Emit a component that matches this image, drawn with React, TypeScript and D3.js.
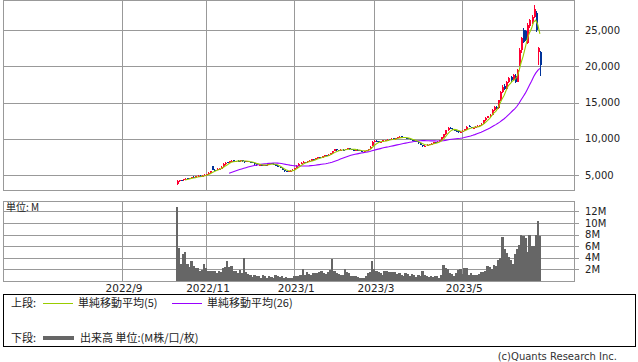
import * as d3 from 'd3';

// daily candles from listing day: [open, high, low, close] (yen)
const ohlc: [number, number, number, number][] = [
  [3750, 4250, 3650, 4150], [4150, 4350, 4050, 4300], [4300, 4350, 4150, 4250], [4250, 4450, 4200, 4400],
  [4400, 4600, 4350, 4500], [4550, 4600, 4400, 4450], [4450, 4650, 4400, 4600], [4600, 4750, 4550, 4700],
  [4750, 4800, 4600, 4650], [4650, 4850, 4600, 4800], [4800, 4950, 4750, 4850], [4900, 4950, 4700, 4750],
  [4750, 4950, 4700, 4900], [4900, 5100, 4850, 5050], [5050, 5200, 4950, 5100], [5150, 5350, 5100, 5300],
  [5300, 5600, 5250, 5500], [6200, 6300, 5700, 5750], [5750, 5850, 5600, 5700], [5700, 5900, 5650, 5800],
  [5800, 5950, 5750, 5850], [5850, 6200, 5800, 6150], [6150, 6600, 6100, 6500], [6500, 6800, 6450, 6700],
  [6750, 6850, 6600, 6650], [6650, 6950, 6600, 6900], [6900, 7100, 6850, 7000], [7050, 7100, 6800, 6850],
  [6850, 7000, 6800, 6950], [6950, 7050, 6850, 6900], [6900, 7100, 6850, 7050], [7050, 7100, 6850, 6900],
  [6950, 7000, 6700, 6850], [6850, 7000, 6800, 6950], [6950, 7000, 6750, 6800], [6800, 6850, 6700, 6750],
  [6750, 6800, 6600, 6650], [6650, 6700, 6400, 6500], [6500, 6550, 6250, 6350], [6350, 6500, 6300, 6450],
  [6450, 6500, 6250, 6300], [6300, 6450, 6250, 6400], [6400, 6450, 6300, 6350], [6350, 6550, 6300, 6500],
  [6500, 6700, 6450, 6650], [6650, 6700, 6500, 6550], [6550, 6600, 6400, 6450], [6450, 6500, 6250, 6300],
  [6300, 6350, 6050, 6100], [6100, 6150, 5900, 5950], [5950, 6000, 5650, 5700], [5700, 5750, 5450, 5500],
  [5500, 5600, 5350, 5450], [5450, 5600, 5400, 5550], [5550, 5650, 5450, 5600], [5600, 5800, 5550, 5750],
  [5800, 6000, 5750, 5950], [5950, 6350, 5900, 6300], [6300, 6600, 6250, 6550], [6550, 6750, 6500, 6700],
  [6700, 6900, 6650, 6800], [6800, 6850, 6650, 6750], [6750, 6950, 6700, 6900], [6900, 7050, 6850, 7000],
  [7000, 7200, 6950, 7150], [7150, 7200, 7000, 7100], [7100, 7350, 7050, 7300], [7300, 7500, 7250, 7450],
  [7450, 7500, 7300, 7400], [7400, 7650, 7350, 7600], [7600, 7750, 7550, 7700], [7700, 7750, 7600, 7650],
  [7650, 7850, 7600, 7800], [7800, 8050, 7750, 8000], [8000, 8350, 7950, 8300], [8300, 8650, 8250, 8550],
  [8550, 8600, 8350, 8400], [8400, 8450, 8250, 8350], [8350, 8550, 8300, 8500], [8500, 8600, 8400, 8450],
  [8450, 8650, 8400, 8600], [8600, 8800, 8550, 8700], [8700, 8750, 8500, 8550], [8550, 8600, 8450, 8500],
  [8500, 8550, 8400, 8450], [8450, 8550, 8400, 8500], [8500, 8550, 8350, 8400], [8400, 8450, 8300, 8350],
  [8350, 8400, 8200, 8250], [8250, 8350, 8200, 8300], [8300, 8450, 8250, 8400], [8400, 8650, 8350, 8600],
  [8600, 8950, 8550, 8900], [9000, 9700, 8950, 9600], [9600, 9800, 9550, 9700], [9750, 9800, 9600, 9650],
  [9650, 9700, 9450, 9500], [9500, 9600, 9400, 9550], [9550, 9850, 9500, 9800], [9800, 9900, 9700, 9850],
  [9850, 9950, 9800, 9900], [9950, 10000, 9800, 9850], [9850, 10050, 9800, 10000], [10050, 10100, 9900, 9950],
  [9950, 10150, 9900, 10100], [10100, 10250, 10050, 10200], [10200, 10400, 10150, 10300], [10350, 10400, 10200, 10250],
  [10250, 10300, 10050, 10100], [10100, 10150, 10000, 10050], [10050, 10100, 9950, 10000], [10000, 10050, 9850, 9900],
  [9900, 9950, 9700, 9750], [9750, 9800, 9600, 9650], [9650, 9700, 9500, 9550], [9550, 9600, 9350, 9400],
  [9400, 9450, 9100, 9150], [9150, 9200, 8850, 8950], [8950, 9100, 8900, 9050], [9050, 9250, 9000, 9200],
  [9200, 9350, 9150, 9300], [9300, 9400, 9250, 9350], [9350, 9550, 9300, 9500], [9500, 9550, 9400, 9450],
  [9450, 9650, 9400, 9600], [9600, 9850, 9550, 9800], [9800, 10250, 9750, 10200], [10200, 10650, 10150, 10600],
  [10600, 11250, 10550, 11200], [11200, 11600, 11150, 11450], [11550, 11600, 11350, 11400], [11400, 11500, 11300, 11350],
  [11350, 11400, 11050, 11100], [11100, 11200, 10950, 11050], [11050, 11100, 10850, 10950], [10950, 11100, 10900, 11000],
  [11000, 11200, 10950, 11150], [11150, 11350, 11100, 11300], [11300, 11800, 11250, 11700], [11750, 11850, 11600, 11650],
  [11650, 11700, 11450, 11500], [11500, 11600, 11400, 11550], [11550, 11750, 11500, 11700], [11700, 11850, 11650, 11800],
  [11800, 11950, 11700, 11900], [11900, 12150, 11850, 12100], [12100, 12650, 12050, 12600], [12600, 12950, 12500, 12900],
  [12900, 13200, 12850, 13100], [13100, 13400, 13000, 13300], [13300, 14100, 13250, 14000], [14000, 14500, 13900, 14400],
  [14400, 14500, 14100, 14200], [14200, 15400, 14100, 15300], [15300, 16600, 15200, 16500], [16500, 17500, 16300, 17200],
  [17300, 17600, 16700, 16900], [16900, 18000, 16800, 17800], [17900, 18600, 17700, 18400], [18500, 18700, 17900, 18100],
  [18100, 19000, 18000, 18800], [18700, 18900, 17700, 17900], [17900, 19700, 17800, 19500], [20300, 22500, 20100, 22300],
  [22300, 24100, 21800, 23900], [25000, 25300, 23200, 23400], [24900, 25100, 23500, 23700], [23300, 26000, 23100, 25800],
  [25600, 26600, 25300, 26400], [26200, 27100, 25900, 26900], [26900, 28500, 26700, 27900], [27400, 27600, 24800, 25000],
  [22000, 22700, 20200, 22600], [22000, 22100, 18700, 20200],
];

// volume, millions of shares
const volumes = [
  12.8, 5.7, 2.9, 4.6, 5.0, 2.9, 2.5, 3.5, 2.6, 2.2, 2.2, 1.7, 1.9, 2.9, 2.3, 1.8, 1.8, 1.8, 1.8, 1.4,
  1.8, 1.6, 2.3, 2.5, 3.5, 2.4, 2.6, 1.7, 1.7, 1.3, 1.9, 1.3, 4.0, 1.5, 1.2, 1.0, 0.7, 1.1, 0.8, 0.9,
  0.6, 1.1, 0.8, 0.6, 0.9, 0.7, 0.6, 1.0, 0.8, 0.7, 0.9, 0.6, 0.7, 0.5, 0.5, 0.6, 0.8, 0.9, 0.9, 1.1,
  2.1, 1.0, 1.6, 1.2, 1.0, 1.4, 1.3, 1.3, 1.5, 1.7, 1.4, 1.2, 1.6, 1.9, 3.8, 1.8, 1.3, 1.2, 1.0, 1.1,
  2.0, 1.6, 1.4, 0.8, 0.9, 0.8, 0.7, 0.5, 0.5, 0.6, 0.9, 1.3, 1.5, 3.5, 2.1, 1.8, 1.5, 1.3, 1.0, 1.7,
  1.8, 1.6, 1.6, 1.5, 1.6, 1.2, 1.4, 1.1, 0.9, 1.3, 1.2, 0.8, 1.2, 1.0, 0.7, 1.0, 0.9, 1.8, 1.1, 0.8,
  0.7, 0.8, 0.7, 0.9, 0.8, 0.6, 1.0, 2.8, 2.2, 2.0, 1.4, 1.2, 0.9, 1.3, 1.9, 2.1, 1.2, 2.2, 2.2, 1.1,
  1.3, 1.0, 1.1, 1.0, 1.2, 1.6, 1.5, 1.8, 2.6, 2.4, 2.1, 2.8, 2.6, 3.7, 3.9, 7.6, 5.6, 4.8, 4.2, 3.7,
  3.0, 4.6, 5.5, 6.2, 7.9, 7.7, 7.4, 5.0, 8.0, 6.0, 6.0, 8.0, 10.4, 7.8,
];

// month gridlines, as trading-day offsets from the first candle
const monthTicks = [
  { label: '2022/9', day: -26 },
  { label: '2022/11', day: 14 },
  { label: '2023/1', day: 56 },
  { label: '2023/3', day: 94 },
  { label: '2023/5', day: 136 },
];
const priceTicks = [5000, 10000, 15000, 20000, 25000];
const volumeTicks = [2, 4, 6, 8, 10, 12];

const W = 638;
const H = 362;
const LEFT = 3;
const RIGHT = 574;
const TOP = 0.5;
const PRICE_BOTTOM = 190.5;
const VOL_TOP = 201.5;
const VOL_BOTTOM = 281;
const GRID = '#999999';
const UP = '#FF0033';
const DOWN = '#003399';
const MA5 = '#99CC00';
const MA26 = '#9900FF';
const NUM_FONT = 'DejaVu Sans, Verdana, sans-serif';
const JP_FONT = '"Noto Sans CJK JP", sans-serif';

function movingAverage(values: number[], n: number) {
  return values.map((_, i) =>
    i < n - 1 ? null : d3.mean(values.slice(i - n + 1, i + 1)) as number
  );
}

const px = (v: number) => Math.round(v) + 0.5;

export default function App() {
  const x = d3.scaleLinear().domain([0, ohlc.length - 1]).range([176.6, 176.6 + (ohlc.length - 1) * 2.1]);
  const step = x(1) - x(0);
  const y = d3.scaleLinear().domain([5000, 25000]).range([175, 30.3]);
  const yv = d3.scaleLinear().domain([0, 13.8]).range([VOL_BOTTOM, VOL_TOP - 0.5]);

  const closes = ohlc.map((d) => d[3]);
  const ma5 = movingAverage(closes, 5);
  const ma26 = movingAverage(closes, 26);
  const line = d3
    .line<number | null>()
    .defined((d) => d !== null)
    .x((_, i) => x(i))
    .y((d) => y(d as number));

  return (
    <svg width={W} height={H} style={{ position: 'absolute', left: 0, top: 0, background: '#fff' }}>
      {/* price panel */}
      <g shapeRendering="crispEdges">
        {priceTicks.map((t) => (
          <line key={t} x1={LEFT} x2={RIGHT + 5} y1={px(y(t))} y2={px(y(t))} stroke={GRID} />
        ))}
        {monthTicks.map((m) => (
          <line key={m.label} x1={px(x(m.day))} x2={px(x(m.day))} y1={TOP} y2={PRICE_BOTTOM} stroke={GRID} />
        ))}
        <rect x={LEFT + 0.5} y={TOP} width={RIGHT - LEFT} height={PRICE_BOTTOM - TOP} fill="none" stroke={GRID} />
      </g>
      {priceTicks.map((t) => (
        <text key={t} x={RIGHT + 11} y={y(t)} dy="0.36em" fontFamily={NUM_FONT} fontSize={10} fill="#222">
          {d3.format(',')(t)}
        </text>
      ))}
      <g shapeRendering="crispEdges">
        {ohlc.map(([o, h, l, c], i) => {
          const color = c >= o ? UP : DOWN;
          const cx = Math.round(x(i));
          const top = y(Math.max(o, c));
          const bottom = y(Math.min(o, c));
          return (
            <g key={i}>
              <line x1={cx + 0.5} x2={cx + 0.5} y1={y(h)} y2={y(l)} stroke={color} />
              <rect x={cx - 0.5} y={top} width={2} height={Math.max(1, bottom - top)} fill={color} />
            </g>
          );
        })}
      </g>
      <path d={line(ma26) ?? ''} fill="none" stroke={MA26} strokeWidth={1.1} />
      <path d={line(ma5) ?? ''} fill="none" stroke={MA5} strokeWidth={1.1} />

      {/* volume panel */}
      <g shapeRendering="crispEdges">
        {volumeTicks.map((t) => (
          <line key={t} x1={LEFT} x2={RIGHT + 5} y1={px(yv(t))} y2={px(yv(t))} stroke={GRID} />
        ))}
        {monthTicks.map((m) => (
          <line key={m.label} x1={px(x(m.day))} x2={px(x(m.day))} y1={VOL_TOP} y2={VOL_BOTTOM} stroke={GRID} />
        ))}
        {volumes.map((v, i) => (
          <rect
            key={i}
            x={x(i) - step / 2}
            y={yv(v)}
            width={step + 0.4}
            height={VOL_BOTTOM - yv(v)}
            fill="#666666"
          />
        ))}
        <rect x={LEFT + 0.5} y={VOL_TOP} width={RIGHT - LEFT} height={VOL_BOTTOM - VOL_TOP} fill="none" stroke={GRID} />
      </g>
      <text x={6} y={211} fontFamily={JP_FONT} fontSize={10} fill="#222">単位: M</text>
      {volumeTicks.map((t) => (
        <text key={t} x={RIGHT + 11} y={yv(t)} dy="0.36em" fontFamily={NUM_FONT} fontSize={10} fill="#222">
          {t}M
        </text>
      ))}
      {monthTicks.map((m) => (
        <text key={m.label} x={x(m.day) + 2} y={292} textAnchor="middle" fontFamily={NUM_FONT} fontSize={10.5} fill="#222">
          {m.label}
        </text>
      ))}

      {/* legend */}
      <rect x={3.5} y={294.5} width={632} height={52} fill="none" stroke="#000" shapeRendering="crispEdges" />
      <g fontFamily={JP_FONT} fontSize={11} fill="#222">
        <text x={11} y={307}>上段:</text>
        <line x1={43} x2={73} y1={303.5} y2={303.5} stroke={MA5} />
        <text x={78} y={307}>単純移動平均(5)</text>
        <line x1={172} x2={202} y1={303.5} y2={303.5} stroke={MA26} />
        <text x={207} y={307}>単純移動平均(26)</text>
        <text x={11} y={342}>下段:</text>
        <line x1={43} x2={74} y1={338} y2={338} stroke="#666666" strokeWidth={4} />
        <text x={80} y={342}>出来高 単位:(M株/口/枚)</text>
      </g>
      <text x={617} y={360} textAnchor="end" fontFamily={NUM_FONT} fontSize={10} fill="#333">
        (c)Quants Research Inc.
      </text>
    </svg>
  );
}
